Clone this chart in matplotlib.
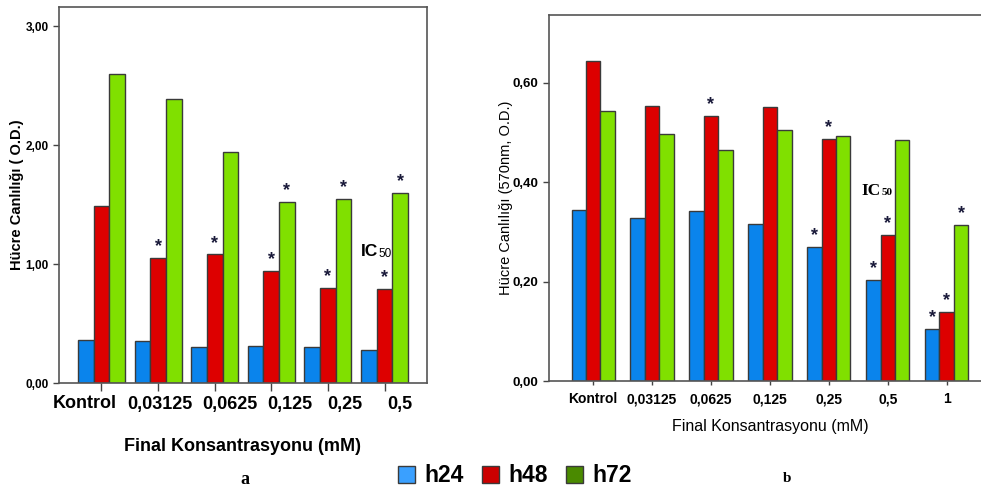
import numpy as np
import matplotlib.pyplot as plt
import matplotlib.transforms as mtransforms
from matplotlib.patches import Patch

plt.rcParams['font.family'] = ['Liberation Sans', 'DejaVu Sans']

# panel a data
cats_a = ['Kontrol', '0,03125', '0,0625', '0,125', '0,25', '0,5']
h24_a = [0.36, 0.35, 0.30, 0.31, 0.305, 0.28]
h48_a = [1.49, 1.05, 1.08, 0.94, 0.80, 0.79]
h72_a = [2.60, 2.39, 1.94, 1.52, 1.55, 1.60]
yticks_a = [0, 1, 2, 3]
ylabels_a = ['0,00', '1,00', '2,00', '3,00']
stars_a = {'h48': [1, 2, 3, 4, 5], 'h72': [3, 4, 5], 'h24': []}
# labels in panel a are hand placed, not centred on ticks (pixel shifts)
label_shift_a = [-17, 2, 15, 19, 17, 15]

# panel b data
cats_b = ['Kontrol', '0,03125', '0,0625', '0,125', '0,25', '0,5', '1']
h24_b = [0.344, 0.328, 0.341, 0.315, 0.269, 0.204, 0.105]
h48_b = [0.644, 0.553, 0.533, 0.551, 0.487, 0.294, 0.139]
h72_b = [0.542, 0.496, 0.464, 0.505, 0.493, 0.484, 0.314]
yticks_b = [0, 0.2, 0.4, 0.6]
ylabels_b = ['0,00', '0,20', '0,40', '0,60']
stars_b = {'h24': [4, 5, 6], 'h48': [2, 4, 5, 6], 'h72': [6]}

bar_colors = {'h24': '#0a84ec', 'h48': '#dd0000', 'h72': '#80e000'}
legend_colors = {'h24': '#3aa0ff', 'h48': '#cc0000', 'h72': '#4a8a00'}
edge = '#3a3a3a'

W, H = 981, 496
fig = plt.figure(figsize=(W / 100, H / 100), dpi=100)

ax_a = fig.add_axes([59 / W, (H - 383) / H, 368 / W, (383 - 7) / H])
ax_b = fig.add_axes([549 / W, (H - 381) / H, (W - 549) / W + 0.01, (381 - 15) / H])


def draw_panel(ax, cats, series, stars, width, star_size):
    x = np.arange(len(cats))
    for k, (name, vals) in enumerate(series.items()):
        pos = x + (k - 1) * width
        ax.bar(pos, vals, width, color=bar_colors[name], edgecolor=edge,
               linewidth=1.0, zorder=2)
        for i in stars[name]:
            ax.annotate('*', (pos[i], vals[i]), xytext=(0, 2),
                        textcoords='offset points', ha='center', va='bottom',
                        fontsize=star_size, fontweight='bold', color='#1a1a3a')
    ax.set_xticks(x)
    for s in ax.spines.values():
        s.set_color('#555555')
        s.set_linewidth(1.2)
    ax.tick_params(axis='both', colors='#444444', length=4, width=1)


draw_panel(ax_a, cats_a, {'h24': h24_a, 'h48': h48_a, 'h72': h72_a},
           stars_a, 0.277, 13)
ax_a.set_xlim(-0.75, 5.75)
ax_a.set_ylim(0, 3.16)
ax_a.set_yticks(yticks_a)
ax_a.set_yticklabels(ylabels_a, fontsize=8.5, fontweight='bold', color='black')
ax_a.set_xticklabels([])
ax_a.tick_params(axis='x', length=6)
for i, (lab, dx) in enumerate(zip(cats_a, label_shift_a)):
    tr = ax_a.get_xaxis_transform() + mtransforms.ScaledTranslation(
        dx / 100, -21 / 100, fig.dpi_scale_trans)
    ax_a.text(i, 0, lab, transform=tr, ha='center', va='center',
              fontsize=13, fontweight='bold')
ax_a.set_ylabel('Hücre Canlılığı ( O.D.)', fontsize=10.5, fontweight='bold',
                labelpad=1)
ax_a.set_xlabel('Final Konsantrasyonu (mM)', fontsize=13, fontweight='bold',
                labelpad=30)
ax_a.text(4.59, 1.07, 'IC', fontsize=12.5, fontweight='bold', va='baseline')
ax_a.text(4.89, 1.06, '50', fontsize=8.5, va='baseline')

draw_panel(ax_b, cats_b, {'h24': h24_b, 'h48': h48_b, 'h72': h72_b},
           stars_b, 0.245, 13)
ax_b.set_xlim(-0.75, 6.75)
ax_b.set_ylim(0, 0.736)
ax_b.spines['right'].set_visible(False)
ax_b.set_yticks(yticks_b)
ax_b.set_yticklabels(ylabels_b, fontsize=9.5, fontweight='bold', color='black')
ax_b.set_xticklabels(cats_b, fontsize=10, fontweight='bold', color='black')
ax_b.tick_params(axis='x', length=3, pad=5)
ax_b.set_ylabel('Hücre Canlılığı (570nm, O.D.)', fontsize=10.5, labelpad=0)
ax_b.set_xlabel('Final Konsantrasyonu (mM)', fontsize=11.5, labelpad=9)
ax_b.text(4.56, 0.374, 'IC', fontsize=12.5, fontweight='bold',
          family='Liberation Serif', va='baseline')
ax_b.text(4.89, 0.374, '50', fontsize=8, fontweight='bold',
          family='Liberation Serif', va='baseline')

handles = [Patch(facecolor=legend_colors[n], edgecolor=edge, label=n)
           for n in ['h24', 'h48', 'h72']]
fig.legend(handles=handles, loc='center', bbox_to_anchor=(515 / W, 1 - 476 / H),
           ncol=3, frameon=False, prop={'size': 16.5, 'weight': 'bold'},
           handlelength=0.75, handleheight=0.7, handletextpad=0.4,
           columnspacing=0.8)

fig.text(245 / W, 1 - 480 / H, 'a', fontsize=13, fontweight='bold',
         family='Liberation Serif', ha='center', va='center')
fig.text(787 / W, 1 - 478 / H, 'b', fontsize=11, fontweight='bold',
         family='Liberation Serif', ha='center', va='center')

fig.savefig('out.png', dpi=100)
